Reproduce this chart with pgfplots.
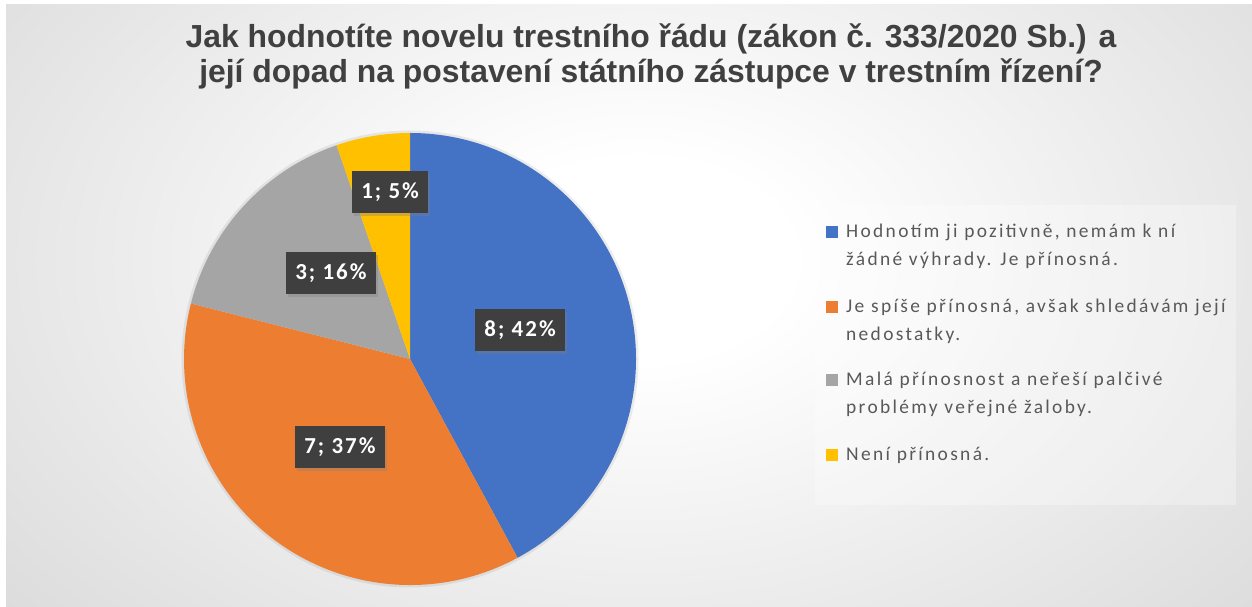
\documentclass[border=0pt]{standalone}
\usepackage{pgfplots}
\pgfplotsset{compat=1.18}
\usepackage{pgfplotstable}
\usepackage{fontspec}
\setmainfont{Carlito}
\newfontfamily\titlefont{Liberation Sans}
\newfontfamily\legfont[LetterSpace=12]{Carlito}
\newfontfamily\lblfont[LetterSpace=9]{Carlito}
\usetikzlibrary{shadows}

\definecolor{pieblue}{HTML}{4472C4}
\definecolor{pieorange}{HTML}{ED7D31}
\definecolor{piegray}{HTML}{A5A5A5}
\definecolor{pieyellow}{HTML}{FFC000}
\definecolor{txtgray}{HTML}{595959}
\definecolor{titlegray}{HTML}{404040}
\definecolor{lblbox}{HTML}{3F3F3F}

\pgfdeclareradialshading{bgshade}{\pgfpoint{0bp}{0bp}}{color(0bp)=(white); color(6bp)=(white); color(35bp)=(black!15); color(50bp)=(black!22); color(70bp)=(black!25)}

% count, label position (axis units, radius = 1)
\pgfplotstableread{
n pct lx ly
8 42 0.487 0.128
7 37 -0.310 -0.389
3 16 -0.350 0.381
1 5 -0.088 0.739
}\piedata

\newcommand\getval[3]{\pgfplotstablegetelem{#1}{#2}\of\piedata\let#3\pgfplotsretval}
\getval{0}{n}\nA \getval{1}{n}\nB \getval{2}{n}\nC \getval{3}{n}\nD
\getval{0}{pct}\pA \getval{1}{pct}\pB \getval{2}{pct}\pC \getval{3}{pct}\pD
\getval{0}{lx}\xA \getval{1}{lx}\xB \getval{2}{lx}\xC \getval{3}{lx}\xD
\getval{0}{ly}\yA \getval{1}{ly}\yB \getval{2}{ly}\yC \getval{3}{ly}\yD
\pgfmathsetmacro\tot{\nA+\nB+\nC+\nD}
\pgfmathsetmacro\aA{90}
\pgfmathsetmacro\aB{\aA-360*\nA/\tot}
\pgfmathsetmacro\aC{\aB-360*\nB/\tot}
\pgfmathsetmacro\aD{\aC-360*\nC/\tot}
\pgfmathsetmacro\aE{\aD-360*\nD/\tot}

\begin{document}
\begin{tikzpicture}[x=1bp,y=1bp]
\fill[white] (0,0) rectangle (1252,607);
\begin{scope}
\clip (6,0) rectangle (1252,602);
\shade[shading=bgshade] (6,-73) rectangle (1274,767);
\end{scope}

% title
\node[font=\titlefont\bfseries\fontsize{32}{35}\selectfont, text=titlegray, anchor=base] at (651,559)
  {Jak hodnotíte novelu trestního řádu (zákon č. 333/2020 Sb.) a};
\node[font=\titlefont\bfseries\fontsize{32}{35}\selectfont, text=titlegray, anchor=base] at (651,524)
  {její dopad na postavení státního zástupce v trestním řízení?};

% legend
\fill[white, fill opacity=0.3] (815,102) rectangle (1236,402);
\begin{scope}[every node/.style={font=\legfont\fontsize{19.5}{28}\selectfont, text=txtgray, anchor=base west, inner sep=0pt}]
\fill[pieblue] (826,369) rectangle ++(12,12);
\node at (846,369) {Hodnotím ji pozitivně, nemám k ní};
\node at (846,341) {žádné výhrady. Je přínosná.};
\fill[pieorange] (826,294) rectangle ++(12,12);
\node at (846,294) {Je spíše přínosná, avšak shledávám její};
\node at (846,266) {nedostatky.};
\fill[piegray] (826,221) rectangle ++(12,12);
\node at (846,221) {Malá přínosnost a neřeší palčivé};
\node at (846,193) {problémy veřejné žaloby.};
\fill[pieyellow] (826,146) rectangle ++(12,12);
\node at (846,146) {Není přínosná.};
\end{scope}

\begin{axis}[at={(410bp,248bp)}, anchor=center, width=452bp, height=452bp, scale only axis,
  xmin=-1, xmax=1, ymin=-1, ymax=1, hide axis, clip=false]
\fill[black, opacity=0.07] (0,0) circle[radius=228.5bp];
\fill[pieblue] (0,0) -- ({cos(\aA)},{sin(\aA)}) arc[start angle=\aA, end angle=\aB, radius=226bp] -- cycle;
\fill[pieorange] (0,0) -- ({cos(\aB)},{sin(\aB)}) arc[start angle=\aB, end angle=\aC, radius=226bp] -- cycle;
\fill[piegray] (0,0) -- ({cos(\aC)},{sin(\aC)}) arc[start angle=\aC, end angle=\aD, radius=226bp] -- cycle;
\fill[pieyellow] (0,0) -- ({cos(\aD)},{sin(\aD)}) arc[start angle=\aD, end angle=\aE, radius=226bp] -- cycle;
\begin{scope}[every node/.style={fill=lblbox, text=white, font=\lblfont\bfseries\fontsize{23}{26}\selectfont,
  inner xsep=9bp, minimum height=42bp, drop shadow={opacity=0.35, shadow xshift=2bp, shadow yshift=-3bp}}]
\node at (\xA,\yA) {\nA; \pA\%};
\node at (\xB,\yB) {\nB; \pB\%};
\node at (\xC,\yC) {\nC; \pC\%};
\node at (\xD,\yD) {\nD; \pD\%};
\end{scope}
\end{axis}
\pgfresetboundingbox
\useasboundingbox (0,0) rectangle (1252,607);
\end{tikzpicture}
\end{document}
